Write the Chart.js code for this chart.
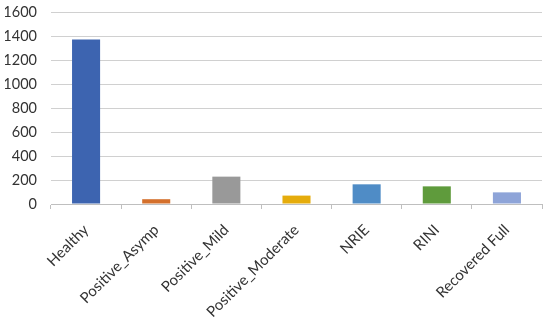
<!DOCTYPE html>
<html>
<head>
<meta charset="utf-8">
<script src="https://cdn.jsdelivr.net/npm/chart.js@4/dist/chart.umd.min.js"></script>
<style>
  html, body { margin: 0; padding: 0; background: #fff; }
  #wrap { width: 550px; height: 317px; }
</style>
</head>
<body>
<div id="wrap"><canvas id="chart"></canvas></div>
<script>
// categories and counts
const categories = ['Healthy', 'Positive_Asymp', 'Positive_Mild', 'Positive_Moderate', 'NRIE', 'RINI', 'Recovered Full'];
const counts = [1370, 40, 228, 70, 164, 147, 97];
const barColors = ['#3d64b0', '#d4702c', '#999999', '#e5ac0c', '#4f8cc6', '#5f9b3c', '#8ea4d8'];
const yTicks = [0, 200, 400, 600, 800, 1000, 1200, 1400, 1600];

const yFont = { family: 'Lato, "Open Sans", sans-serif', size: 14.5 };
const xFont = { family: 'Lato, "Open Sans", sans-serif', size: 15 };

new Chart(document.getElementById('chart').getContext('2d'), {
    type: 'bar',
    data: {
        labels: categories,
        datasets: [{
            data: counts,
            backgroundColor: barColors,
            borderWidth: 0,
            categoryPercentage: 1,
            barPercentage: 0.4
        }]
    },
    options: {
        responsive: true,
        maintainAspectRatio: false,
        animation: false,
        layout: { padding: { top: 12, right: 8, left: 5, bottom: 0 } },
        plugins: {
            legend: { display: false },
            tooltip: { enabled: false }
        },
        scales: {
            x: {
                offset: true,
                grid: {
                    offset: true,
                    drawOnChartArea: false,
                    drawTicks: true,
                    tickLength: 5,
                    color: '#bfbfbf'
                },
                border: { display: true, color: '#bfbfbf' },
                ticks: {
                    color: '#333',
                    font: xFont,
                    minRotation: 45,
                    maxRotation: 45,
                    autoSkip: false,
                    padding: 12
                },
                afterFit: (axis) => {
                    // keep the rotated labels from squeezing the plot
                    axis.height = 113;
                    axis.paddingLeft = 0;
                    axis.paddingRight = 0;
                }
            },
            y: {
                min: 0,
                max: 1600,
                afterBuildTicks: (axis) => {
                    axis.ticks = yTicks.map(v => ({ value: v }));
                },
                grid: {
                    color: '#d0d0d0',
                    drawTicks: false
                },
                border: { display: false },
                ticks: {
                    color: '#333',
                    font: yFont,
                    padding: 14,
                    callback: (v) => String(v)
                },
                afterFit: (axis) => {
                    axis.width = 46;
                    axis.paddingTop = 0;
                    axis.paddingBottom = 0;
                }
            }
        }
    }
});
</script>
</body>
</html>
